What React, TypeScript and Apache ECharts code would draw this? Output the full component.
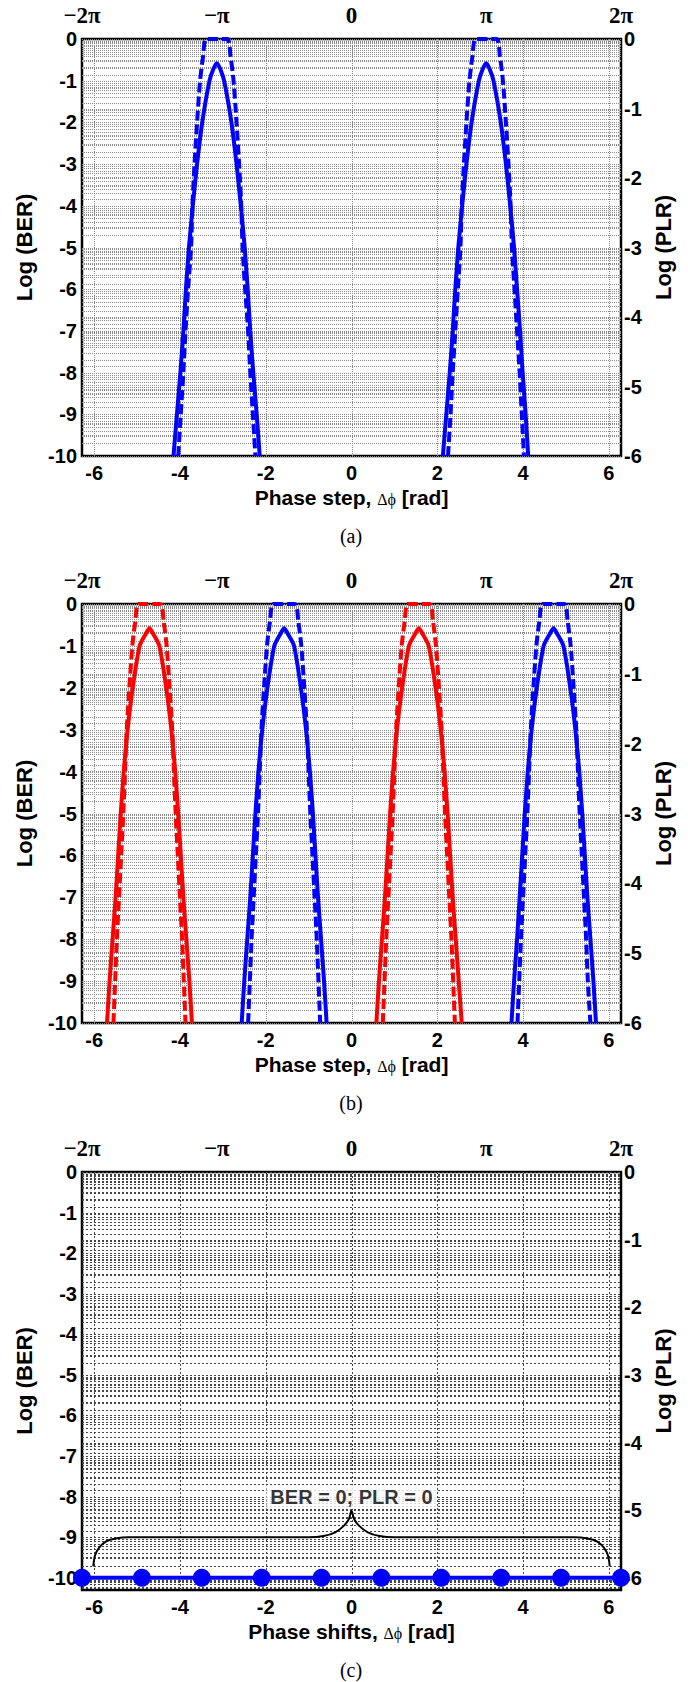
import React, { useEffect, useRef } from 'react';
import * as echarts from 'echarts';

const PI = Math.PI;
const X_MIN = -2 * PI;
const X_MAX = 2 * PI;

// Tick labels
const BOTTOM_TICKS = [-6, -4, -2, 0, 2, 4, 6];
const TOP_TICKS = [-2 * PI, -PI, 0, PI, 2 * PI];
const TOP_LABELS = ['−2π', '−π', '0', 'π', '2π'];
const BER_TICKS = [0, -1, -2, -3, -4, -5, -6, -7, -8, -9, -10];
const PLR_TICKS = [0, -1, -2, -3, -4, -5, -6];
const V_GRID = [-6, -4, -2, 0, 2, 4, 6];

// ---------- Panel (a): phase step, blue, peaks at ±π ----------
// Log(BER) solid (left axis)
const BER_A_1: [number, number][] = [[-4.15,-10],[-4.07,-9],[-3.99,-8],[-3.92,-7],[-3.86,-6],[-3.79,-5],[-3.70,-4],[-3.60,-3],[-3.48,-2],[-3.31,-1],[-3.22,-0.72],[-3.14,-0.58],[-3.06,-0.72],[-2.97,-1],[-2.80,-2],[-2.68,-3],[-2.58,-4],[-2.49,-5],[-2.42,-6],[-2.36,-7],[-2.29,-8],[-2.21,-9],[-2.14,-10]];
const BER_A_2: [number, number][] = [[2.13,-10],[2.21,-9],[2.29,-8],[2.36,-7],[2.42,-6],[2.49,-5],[2.58,-4],[2.68,-3],[2.80,-2],[2.97,-1],[3.06,-0.72],[3.14,-0.58],[3.22,-0.72],[3.31,-1],[3.48,-2],[3.60,-3],[3.70,-4],[3.79,-5],[3.86,-6],[3.93,-7],[3.99,-8],[4.06,-9],[4.12,-10]];
// Log(PLR) dashed (right axis)
const PLR_A_1: [number, number][] = [[-4.04,-6],[-3.98,-5.4],[-3.92,-4.8],[-3.87,-4.2],[-3.81,-3.6],[-3.74,-3],[-3.71,-2.4],[-3.66,-1.8],[-3.60,-1.2],[-3.53,-0.6],[-3.46,-0.25],[-3.38,0],[-2.90,0],[-2.82,-0.25],[-2.75,-0.6],[-2.68,-1.2],[-2.62,-1.8],[-2.57,-2.4],[-2.54,-3],[-2.48,-3.6],[-2.41,-4.2],[-2.36,-4.8],[-2.30,-5.4],[-2.24,-6]];
const PLR_A_2: [number, number][] = [[2.25,-6],[2.31,-5.4],[2.36,-4.8],[2.42,-4.2],[2.48,-3.6],[2.54,-3],[2.57,-2.4],[2.62,-1.8],[2.68,-1.2],[2.75,-0.6],[2.82,-0.25],[2.90,0],[3.38,0],[3.46,-0.25],[3.53,-0.6],[3.60,-1.2],[3.66,-1.8],[3.71,-2.4],[3.74,-3],[3.80,-3.6],[3.86,-4.2],[3.92,-4.8],[3.97,-5.4],[4.02,-6]];

// ---------- Panel (b): red peaks at -3π/2, π/2 ; blue peaks at -π/2, 3π/2 ----------
const BER_B_RED_1: [number, number][] = [[-5.70,-10],[-5.64,-9],[-5.57,-8],[-5.50,-7],[-5.44,-6],[-5.38,-5],[-5.31,-4],[-5.22,-3],[-5.10,-2],[-4.94,-1],[-4.80,-0.72],[-4.71,-0.58],[-4.62,-0.72],[-4.48,-1],[-4.32,-2],[-4.20,-3],[-4.11,-4],[-4.04,-5],[-3.98,-6],[-3.92,-7],[-3.85,-8],[-3.78,-9],[-3.72,-10]];
const PLR_B_RED_1: [number, number][] = [[-5.55,-6],[-5.51,-5.4],[-5.47,-4.8],[-5.42,-4.2],[-5.37,-3.6],[-5.32,-3],[-5.28,-2.4],[-5.24,-1.8],[-5.18,-1.2],[-5.11,-0.6],[-5.04,-0.25],[-4.96,0],[-4.46,0],[-4.38,-0.25],[-4.31,-0.6],[-4.24,-1.2],[-4.18,-1.8],[-4.14,-2.4],[-4.10,-3],[-4.05,-3.6],[-4.00,-4.2],[-3.95,-4.8],[-3.91,-5.4],[-3.87,-6]];
const BER_B_BLUE_1: [number, number][] = [[-2.56,-10],[-2.50,-9],[-2.43,-8],[-2.36,-7],[-2.30,-6],[-2.24,-5],[-2.17,-4],[-2.08,-3],[-1.96,-2],[-1.80,-1],[-1.66,-0.72],[-1.57,-0.58],[-1.48,-0.72],[-1.34,-1],[-1.18,-2],[-1.06,-3],[-0.97,-4],[-0.90,-5],[-0.84,-6],[-0.78,-7],[-0.71,-8],[-0.64,-9],[-0.58,-10]];
const PLR_B_BLUE_1: [number, number][] = [[-2.41,-6],[-2.37,-5.4],[-2.33,-4.8],[-2.28,-4.2],[-2.23,-3.6],[-2.18,-3],[-2.14,-2.4],[-2.10,-1.8],[-2.04,-1.2],[-1.97,-0.6],[-1.90,-0.25],[-1.82,0],[-1.32,0],[-1.24,-0.25],[-1.17,-0.6],[-1.10,-1.2],[-1.04,-1.8],[-1.00,-2.4],[-0.96,-3],[-0.91,-3.6],[-0.86,-4.2],[-0.81,-4.8],[-0.77,-5.4],[-0.73,-6]];
const BER_B_RED_2: [number, number][] = [[0.58,-10],[0.64,-9],[0.71,-8],[0.78,-7],[0.84,-6],[0.90,-5],[0.97,-4],[1.06,-3],[1.18,-2],[1.34,-1],[1.48,-0.72],[1.57,-0.58],[1.66,-0.72],[1.80,-1],[1.96,-2],[2.08,-3],[2.17,-4],[2.24,-5],[2.30,-6],[2.36,-7],[2.43,-8],[2.50,-9],[2.57,-10]];
const PLR_B_RED_2: [number, number][] = [[0.73,-6],[0.77,-5.4],[0.81,-4.8],[0.86,-4.2],[0.91,-3.6],[0.96,-3],[1.00,-2.4],[1.04,-1.8],[1.10,-1.2],[1.17,-0.6],[1.24,-0.25],[1.32,0],[1.82,0],[1.90,-0.25],[1.97,-0.6],[2.04,-1.2],[2.10,-1.8],[2.14,-2.4],[2.18,-3],[2.23,-3.6],[2.28,-4.2],[2.33,-4.8],[2.37,-5.4],[2.41,-6]];
const BER_B_BLUE_2: [number, number][] = [[3.73,-10],[3.79,-9],[3.86,-8],[3.92,-7],[3.98,-6],[4.04,-5],[4.11,-4],[4.20,-3],[4.32,-2],[4.48,-1],[4.62,-0.72],[4.71,-0.58],[4.80,-0.72],[4.94,-1],[5.10,-2],[5.22,-3],[5.31,-4],[5.38,-5],[5.44,-6],[5.50,-7],[5.57,-8],[5.64,-9],[5.70,-10]];
const PLR_B_BLUE_2: [number, number][] = [[3.87,-6],[3.91,-5.4],[3.95,-4.8],[4.00,-4.2],[4.05,-3.6],[4.10,-3],[4.14,-2.4],[4.18,-1.8],[4.24,-1.2],[4.31,-0.6],[4.38,-0.25],[4.46,0],[4.96,0],[5.04,-0.25],[5.11,-0.6],[5.18,-1.2],[5.24,-1.8],[5.28,-2.4],[5.32,-3],[5.37,-3.6],[5.42,-4.2],[5.47,-4.8],[5.51,-5.4],[5.57,-6]];

// ---------- Panel (c): phase shifts, BER = 0 ; PLR = 0 ----------
const SHIFTS_C = [-6.283, -4.887, -3.491, -2.094, -0.698, 0.698, 2.094, 3.491, 4.887, 6.283];
const BER_C = [-10, -10, -10, -10, -10, -10, -10, -10, -10, -10];
const BRACE_C: [number, number][] = [[-6.02,-9.72],[-5.98,-9.45],[-5.88,-9.25],[-5.72,-9.1],[-5.5,-9.03],[-5.2,-9.0],[-1.0,-9.0],[-0.65,-8.97],[-0.38,-8.88],[-0.18,-8.72],[-0.06,-8.55],[0,-8.35],[0.06,-8.55],[0.18,-8.72],[0.38,-8.88],[0.65,-8.97],[1.0,-9.0],[5.2,-9.0],[5.5,-9.03],[5.72,-9.1],[5.88,-9.25],[5.98,-9.45],[6.02,-9.72]];
const NOTE_C: [number, number] = [0, -8.01];
const NOTE_TEXT = 'BER = 0; PLR = 0';

const SANS = '"Liberation Sans", Arial, sans-serif';
const SERIF = '"Liberation Serif", "Times New Roman", serif';
const BLUE = '#0000ff';
const RED = '#ff0000';

function logGrid(min: number): number[] {
  const out: number[] = [];
  for (let d = 0; d >= Math.floor(min); d--) {
    if (d >= min - 1e-9) out.push(d);
    for (let k = 2; k <= 9; k++) {
      const v = d - 1 + Math.log10(k);
      if (v >= min - 1e-9 && v <= 0) out.push(v);
    }
  }
  return out;
}

function buildOption() {
  const panels = [
    { top: 39, height: 417, berMin: -10, plrMin: -6, xName: 'Phase step, {g|Δϕ} [rad]', gColor: '#8a8a8a', gDash: [1, 1], caption: '(a)' },
    { top: 604, height: 419, berMin: -10, plrMin: -6, xName: 'Phase step, {g|Δϕ} [rad]', gColor: '#8a8a8a', gDash: [1, 1], caption: '(b)' },
    { top: 1172, height: 418, berMin: -10.3, plrMin: -6.18, xName: 'Phase shifts, {g|Δϕ} [rad]', gColor: '#444444', gDash: [2, 2], caption: '(c)' },
  ];

  const grid: any[] = [];
  const xAxis: any[] = [];
  const yAxis: any[] = [];
  const series: any[] = [];
  const graphic: any[] = [];

  const tickLabel = { fontFamily: SANS, fontWeight: 'bold', fontSize: 20, color: '#000' };
  const nameStyle = {
    fontFamily: SANS, fontWeight: 'bold', fontSize: 21, color: '#000',
    rich: { g: { fontFamily: SERIF, fontWeight: 'normal', fontSize: 16, color: '#000', padding: [4, 0, 0, 0] } },
  };

  panels.forEach((p, i) => {
    grid.push({ left: 82, top: p.top, width: 539, height: p.height, show: true, borderColor: '#000', borderWidth: 2.5, backgroundColor: 'transparent' });
    const hidden = { axisLine: { show: false }, axisTick: { show: false }, splitLine: { show: false } };
    xAxis.push({
      gridIndex: i, type: 'value', min: X_MIN, max: X_MAX, position: 'bottom', ...hidden,
      axisLabel: { ...tickLabel, customValues: BOTTOM_TICKS, margin: 7 },
      name: p.xName, nameLocation: 'middle', nameGap: 31, nameTextStyle: nameStyle,
    });
    xAxis.push({
      gridIndex: i, type: 'value', min: X_MIN, max: X_MAX, position: 'top', ...hidden,
      axisLabel: {
        fontFamily: SERIF, fontWeight: 'bold', fontSize: 23, color: '#000', margin: 12,
        customValues: TOP_TICKS, formatter: (v: number) => TOP_LABELS[Math.round(v / PI) + 2],
      },
    });
    yAxis.push({
      gridIndex: i, type: 'value', min: p.berMin, max: 0, position: 'left', ...hidden,
      axisLabel: { ...tickLabel, customValues: BER_TICKS, margin: 5 },
      name: 'Log (BER)', nameLocation: 'middle', nameRotate: 90, nameGap: 47,
      nameTextStyle: { fontFamily: SANS, fontWeight: 'bold', fontSize: 22, color: '#000' },
    });
    yAxis.push({
      gridIndex: i, type: 'value', min: p.plrMin, max: 0, position: 'right', ...hidden,
      axisLabel: { ...tickLabel, customValues: PLR_TICKS, margin: 3 },
      name: 'Log (PLR)', nameLocation: 'middle', nameRotate: 90, nameGap: 28,
      nameTextStyle: { fontFamily: SANS, fontWeight: 'bold', fontSize: 22, color: '#000' },
    });

    const style = { stroke: p.gColor, lineWidth: 1, lineDash: p.gDash };
    const hLine = (params: any, api: any) => {
      const s = params.coordSys;
      const pt = api.coord([0, api.value(1)]);
      const y = Math.round(pt[1]) + 0.5;
      return { type: 'line', shape: { x1: s.x, y1: y, x2: s.x + s.width, y2: y }, style };
    };
    const vLine = (params: any, api: any) => {
      const s = params.coordSys;
      const pt = api.coord([api.value(0), 0]);
      const x = Math.round(pt[0]) + 0.5;
      return { type: 'line', shape: { x1: x, y1: s.y, x2: x, y2: s.y + s.height }, style };
    };
    series.push({ type: 'custom', xAxisIndex: 2 * i, yAxisIndex: 2 * i, silent: true, z: 1, renderItem: hLine, data: logGrid(p.berMin).map((v) => [0, v]) });
    series.push({ type: 'custom', xAxisIndex: 2 * i, yAxisIndex: 2 * i + 1, silent: true, z: 1, renderItem: hLine, data: logGrid(p.plrMin).map((v) => [0, v]) });
    series.push({ type: 'custom', xAxisIndex: 2 * i, yAxisIndex: 2 * i, silent: true, z: 1, renderItem: vLine, data: V_GRID.map((v) => [v, -5]) });

    graphic.push({
      type: 'text', x: 351, y: p.top + p.height + 80,
      style: { text: p.caption, fontFamily: SERIF, fontSize: 20, fill: '#000', align: 'center', verticalAlign: 'middle' },
    });
  });

  const curve = (data: [number, number][], panel: number, right: boolean, color: string, dashed: boolean) => ({
    type: 'line', xAxisIndex: 2 * panel, yAxisIndex: 2 * panel + (right ? 1 : 0), data,
    showSymbol: false, symbol: 'none', smooth: 0.25, z: 3, silent: true,
    lineStyle: { color, width: 4, type: dashed ? [10, 4] : 'solid' },
  });

  series.push(curve(BER_A_1, 0, false, BLUE, false));
  series.push(curve(BER_A_2, 0, false, BLUE, false));
  series.push(curve(PLR_A_1, 0, true, BLUE, true));
  series.push(curve(PLR_A_2, 0, true, BLUE, true));

  series.push(curve(BER_B_RED_1, 1, false, RED, false));
  series.push(curve(PLR_B_RED_1, 1, true, RED, true));
  series.push(curve(BER_B_BLUE_1, 1, false, BLUE, false));
  series.push(curve(PLR_B_BLUE_1, 1, true, BLUE, true));
  series.push(curve(BER_B_RED_2, 1, false, RED, false));
  series.push(curve(PLR_B_RED_2, 1, true, RED, true));
  series.push(curve(BER_B_BLUE_2, 1, false, BLUE, false));
  series.push(curve(PLR_B_BLUE_2, 1, true, BLUE, true));

  series.push({
    type: 'line', xAxisIndex: 4, yAxisIndex: 4, data: BRACE_C, showSymbol: false, symbol: 'none',
    smooth: 0.3, z: 3, silent: true, lineStyle: { color: '#000', width: 2 },
  });
  series.push({
    type: 'scatter', xAxisIndex: 4, yAxisIndex: 4, data: [NOTE_C], symbolSize: 1, z: 5, silent: true,
    itemStyle: { color: 'rgba(0,0,0,0)' },
    label: {
      show: true, position: 'inside', formatter: NOTE_TEXT, fontFamily: SANS, fontWeight: 'bold',
      fontSize: 20, color: '#000', textBorderWidth: 0, textBorderColor: 'transparent',
      backgroundColor: '#fff', padding: [2, 4],
    },
  });
  series.push({
    type: 'line', xAxisIndex: 4, yAxisIndex: 4, data: SHIFTS_C.map((x, k) => [x, BER_C[k]]),
    symbol: 'circle', symbolSize: 18, showSymbol: true, clip: false, z: 4, silent: true,
    itemStyle: { color: BLUE }, lineStyle: { color: BLUE, width: 4 },
  });

  return { animation: false, backgroundColor: '#fff', grid, xAxis, yAxis, series, graphic };
}

export default function App() {
  const ref = useRef<HTMLDivElement>(null);
  useEffect(() => {
    const chart = echarts.init(ref.current!, null, { renderer: 'svg' });
    chart.setOption(buildOption() as any);
    return () => chart.dispose();
  }, []);
  return (
    <div
      ref={ref}
      style={{ position: 'absolute', left: 0, top: 0, width: 688, height: 1682, background: '#fff' }}
    />
  );
}
